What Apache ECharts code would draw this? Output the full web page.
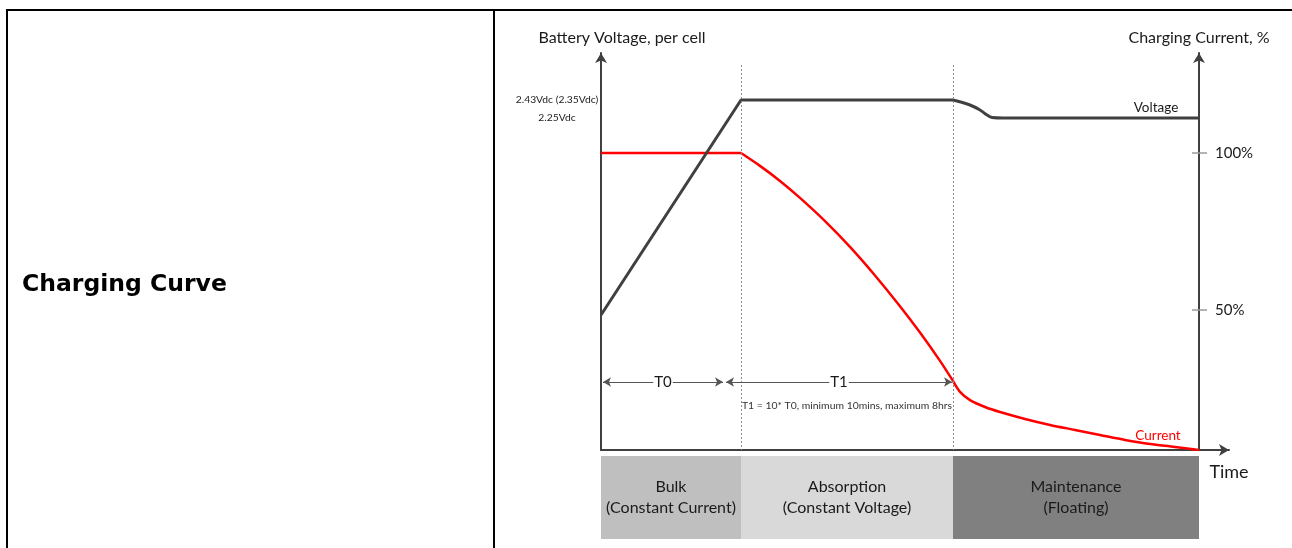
<!DOCTYPE html>
<html>
<head>
<meta charset="utf-8">
<title>Charging Curve</title>
<script src="https://cdn.jsdelivr.net/npm/echarts@6/dist/echarts.min.js"></script>
<style>
  html, body { margin: 0; padding: 0; background: #fff; }
  #chart { width: 1292px; height: 548px; }
</style>
</head>
<body>
<div id="chart"></div>
<script>
// Time runs in arbitrary units; phase boundaries (end of bulk, absorption, maintenance)
const phaseEnds = [14, 35.2, 59.8];
const phaseNames = ['Bulk\n(Constant Current)', 'Absorption\n(Constant Voltage)', 'Maintenance\n(Floating)'];
const phaseColors = ['#bfbfbf', '#d9d9d9', '#808080'];

// Battery voltage per cell [time, volts]
const voltagePoints = [
  [0, 0.28], [14, 2.43], [35.2, 2.43], [36.9, 2.38], [37.9, 2.33],
  [38.6, 2.28], [39.1, 2.255], [40.2, 2.25], [59.8, 2.25]
];

// Charging current [time, %]
const currentPoints = [
  [0, 100], [14, 100], [15.9, 95.9], [17.9, 91.1], [19.9, 85.7], [22.4, 78.3],
  [24.9, 70.1], [27.4, 61.0], [29.9, 51.2], [31.9, 42.8], [33.9, 33.8], [35.2, 27.4],
  [35.9, 23.9], [36.9, 21.3], [38.4, 19.1], [39.9, 17.5], [42.4, 15.3], [44.9, 13.4],
  [47.4, 11.8], [49.9, 10.2], [52.4, 8.6], [54.9, 7.3], [57.4, 6.4], [59.8, 5.4]
];

// Axis annotations
const voltageLevels = [2.43, 2.25];
const voltageLevelLabels = ['2.43Vdc (2.35Vdc)', '2.25Vdc'];
const currentTicks = [50, 100];

// Timing spans T0 / T1
const spanLabels = ['T0', 'T1'];
const spanRanges = [[0.2, 12.2], [12.5, 35.1]];
const spanLevel = -0.39;
const spanNote = 'T1 = 10* T0, minimum 10mins, maximum 8hrs';

const FONT = 'Lato, "Open Sans", sans-serif';
const AXIS_COLOR = '#404040';
const TEXT_COLOR = '#1a1a1a';
const vMin = -1.07, vMax = 2.90;
const cMin = 5.41, cMax = 131.85;
const tMax = 62.8;

const phaseSpans = phaseEnds.map((e, i) => +(e - (i ? phaseEnds[i - 1] : 0)).toFixed(2));

// split a curve at the given times so each piece keeps its own corners
function splitAt(points, xs) {
  const parts = [];
  let start = 0;
  xs.forEach(x => {
    const i = points.findIndex(p => p[0] === x);
    parts.push(points.slice(start, i + 1));
    start = i;
  });
  parts.push(points.slice(start));
  return parts;
}
const [voltageRise, voltageFloat] = splitAt(voltagePoints, [phaseEnds[1]]);
const [currentBulk, currentAbsorb, currentTail] = splitAt(currentPoints, [phaseEnds[0], phaseEnds[1]]);

const chart = echarts.init(document.getElementById('chart'), null, { renderer: 'canvas' });

const bandSeries = phaseSpans.map((span, i) => ({
  type: 'bar',
  xAxisIndex: 1,
  yAxisIndex: 2,
  stack: 'phase',
  barWidth: '100%',
  silent: true,
  itemStyle: { color: phaseColors[i] },
  label: {
    show: true,
    position: 'inside',
    formatter: () => phaseNames[i],
    color: TEXT_COLOR,
    fontFamily: FONT,
    fontSize: 16,
    lineHeight: 21
  },
  data: [span]
}));

const hiddenMarker = {
  symbol: 'circle', symbolSize: 1, silent: true, z: 8,
  itemStyle: { color: 'rgba(0,0,0,0)' }
};

const currentLine = (data, smooth) => ({
  name: 'Current', type: 'line', xAxisIndex: 0, yAxisIndex: 1, z: 3,
  symbol: 'none', smooth: smooth,
  lineStyle: { color: '#ff0000', width: 2.5 },
  data: data
});

chart.setOption({
  animation: false,
  textStyle: { fontFamily: FONT },
  title: {
    text: 'Charging Curve',
    left: 17,
    top: 268,
    textStyle: { fontFamily: '"DejaVu Sans", Verdana, sans-serif', fontSize: 23.5, fontWeight: 'bold', color: '#000' }
  },
  graphic: [
    { type: 'line', shape: { x1: 6, y1: 10, x2: 1292, y2: 10 }, style: { stroke: '#000', lineWidth: 2 } },
    { type: 'line', shape: { x1: 7, y1: 9, x2: 7, y2: 548 }, style: { stroke: '#000', lineWidth: 2 } },
    { type: 'line', shape: { x1: 494, y1: 9, x2: 494, y2: 548 }, style: { stroke: '#000', lineWidth: 2 } }
  ],
  grid: [
    { left: 601, right: 63, top: 53, bottom: 98, containLabel: false },
    { left: 601, right: 93, top: 456, bottom: 9, containLabel: false }
  ],
  xAxis: [
    {
      type: 'value', gridIndex: 0, min: 0, max: tMax,
      axisLine: { onZero: false, symbol: ['none', 'arrow'], symbolSize: [9, 10], lineStyle: { color: AXIS_COLOR, width: 2 } },
      axisTick: { show: false }, axisLabel: { show: false }, splitLine: { show: false },
      name: 'Time', nameLocation: 'end', nameGap: 0,
      nameTextStyle: { fontFamily: FONT, fontSize: 18, color: TEXT_COLOR, align: 'center', verticalAlign: 'top', padding: [13, 0, 0, 0] }
    },
    {
      type: 'value', gridIndex: 1, min: 0, max: phaseEnds[phaseEnds.length - 1], show: false
    }
  ],
  yAxis: [
    {
      type: 'value', gridIndex: 0, position: 'left', min: vMin, max: vMax,
      axisLine: { show: true, onZero: false, symbol: ['none', 'arrow'], symbolSize: [9, 10], lineStyle: { color: AXIS_COLOR, width: 2 } },
      axisTick: { show: false }, splitLine: { show: false },
      axisLabel: {
        customValues: voltageLevels,
        formatter: v => voltageLevelLabels[voltageLevels.indexOf(+v)] || '',
        align: 'center', margin: 44, fontSize: 10.3, color: '#222', fontFamily: FONT
      },
      name: 'Battery Voltage, per cell', nameLocation: 'end', nameGap: 7,
      nameTextStyle: { fontFamily: FONT, fontSize: 16, color: TEXT_COLOR, padding: [0, 0, 0, 42] }
    },
    {
      type: 'value', gridIndex: 0, position: 'right', offset: -30, min: cMin, max: cMax,
      axisLine: { show: true, onZero: false, symbol: ['none', 'arrow'], symbolSize: [9, 10], lineStyle: { color: AXIS_COLOR, width: 2 } },
      axisTick: { show: false },
      splitLine: { show: false },
      axisLabel: {
        customValues: currentTicks, formatter: '{value}%',
        margin: 16, fontSize: 15, color: TEXT_COLOR, fontFamily: FONT
      },
      name: 'Charging Current, %', nameLocation: 'end', nameGap: 7,
      nameTextStyle: { fontFamily: FONT, fontSize: 16, color: TEXT_COLOR }
    },
    {
      type: 'category', gridIndex: 1, data: ['phase'], show: false
    }
  ],
  series: [
    Object.assign(currentLine(currentBulk, false), {
      markLine: {
        silent: true, symbol: 'none',
        label: { show: false },
        lineStyle: { color: '#9a9a9a', width: 1.5, type: 'solid' },
        // ticks crossing the current axis
        data: currentTicks.map(v => [{ coord: [59.1, v] }, { coord: [60.6, v] }])
      }
    }),
    currentLine(currentAbsorb, 0.3),
    Object.assign(currentLine(currentTail, 0.3), {
      markPoint: Object.assign({}, hiddenMarker, {
        label: { show: true, position: 'inside', color: '#ff0000', fontSize: 13.5, fontFamily: FONT, formatter: 'Current' },
        data: [{ coord: [55.7, 9.9] }]
      })
    }),
    {
      name: 'Voltage', type: 'line', xAxisIndex: 0, yAxisIndex: 0, z: 4,
      symbol: 'none', smooth: false,
      lineStyle: { color: '#404040', width: 3 },
      data: voltageRise,
      markLine: {
        silent: true,
        animation: false,
        data: [
          // phase boundaries
          ...phaseEnds.slice(0, 2).map(x => [
            { coord: [x, 2.78], symbol: 'none', lineStyle: { color: '#8c8c8c', width: 1, type: [2, 2] }, label: { show: false } },
            { coord: [x, vMin], symbol: 'none' }
          ]),
          // T0 / T1 spans
          ...spanRanges.map(r => [
            {
              coord: [r[0], spanLevel], symbol: 'arrow', symbolSize: [7, 8],
              lineStyle: { color: '#555', width: 1, type: 'solid' },
              label: { show: false }
            },
            { coord: [r[1], spanLevel], symbol: 'arrow', symbolSize: [7, 8] }
          ])
        ]
      },
      markPoint: Object.assign({}, hiddenMarker, {
        label: { show: true, position: 'inside', fontFamily: FONT, color: TEXT_COLOR },
        data: [
          ...spanRanges.map((r, i) => ({
            coord: [(r[0] + r[1]) / 2, spanLevel],
            label: { formatter: spanLabels[i], fontSize: 15, backgroundColor: '#fff', padding: [0, 1] }
          })),
          { coord: [24.6, -0.63], label: { formatter: spanNote, fontSize: 10.4, color: '#333' } }
        ]
      })
    },
    {
      name: 'Voltage', type: 'line', xAxisIndex: 0, yAxisIndex: 0, z: 4,
      symbol: 'none', smooth: 0.4,
      lineStyle: { color: '#404040', width: 3 },
      data: voltageFloat,
      markPoint: Object.assign({}, hiddenMarker, {
        label: { show: true, position: 'inside', fontFamily: FONT, color: TEXT_COLOR, fontSize: 13.5, formatter: 'Voltage' },
        data: [{ coord: [55.5, 2.35] }]
      })
    },
    ...bandSeries
  ]
});
</script>
</body>
</html>
